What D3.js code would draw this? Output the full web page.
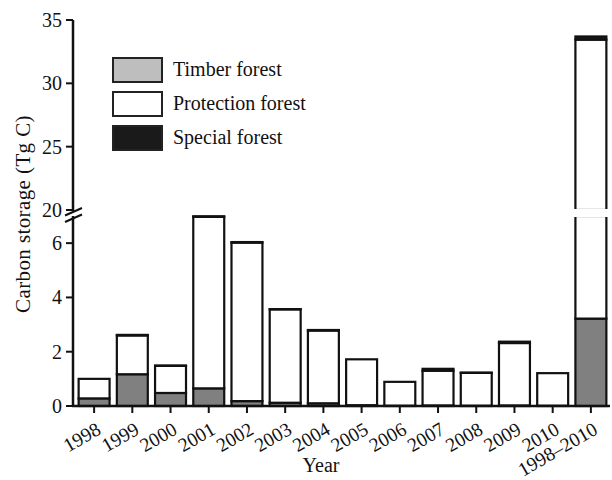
<!DOCTYPE html>
<html><head><meta charset="utf-8">
<script src="https://cdn.jsdelivr.net/npm/d3@7"></script>
<style>body{margin:0;background:#fff}svg{display:block}text{font-family:"Liberation Serif","Times New Roman",serif;fill:#111}</style>
</head><body><svg id="c" width="612" height="480"></svg>
<script>
const categories = ["1998","1999","2000","2001","2002","2003","2004","2005","2006","2007","2008","2009","2010","1998\u20132010"];
const timber     = [0.28,1.17,0.48,0.65,0.18,0.12,0.10,0.03,0.01,0.02,0.01,0.02,0.01,3.22];
const protection = [0.72,1.43,1.00,6.32,5.84,3.44,2.68,1.69,0.88,1.28,1.21,2.30,1.20,30.23];
const special    = [0.00,0.02,0.01,0.02,0.02,0.01,0.02,0.00,0.00,0.07,0.01,0.05,0.00,0.25];
const seriesNames = ["Timber forest","Protection forest","Special forest"];
const lowerTicks = [0,2,4,6];
const upperTicks = [20,25,30,35];

const svg = d3.select("#c");
const axisX = 73;
const x = d3.scaleBand().domain(categories).range([75, 610]).paddingInner(0.19).paddingOuter(0.095);
const yLow = d3.scaleLinear().domain([0,7]).range([406,216]);
const yUp  = d3.scaleLinear().domain([20,35]).range([210,20]);
const barFill = ["#808080","#ffffff","#1a1a1a"];
const legFill = ["#bebebe","#ffffff","#1a1a1a"];

function segs(a,b){
  const out=[];
  if (a<7) out.push([yLow(Math.min(b,7)), yLow(a)]);
  if (b>20) out.push([yUp(b), yUp(Math.max(a,20))]);
  return out;
}
const g = svg.append("g");
categories.forEach((c,i)=>{
  const vals=[timber[i],protection[i],special[i]];
  let base=0;
  vals.forEach((v,k)=>{
    if (v<=0){return;}
    let top=base+v;
    let bottomV=base, topV=top;
    if (bottomV>=7 && bottomV<20) bottomV=20;
    if (topV>7 && topV<20) topV=7;
    segs(bottomV, topV).forEach(([y0,y1])=>{
      g.append("rect").attr("x",x(c)).attr("width",x.bandwidth())
        .attr("y",y0).attr("height",Math.max(0,y1-y0))
        .attr("fill",barFill[k]).attr("stroke","#111").attr("stroke-width",2.2);
    });
    base=top;
  });
  if (base>7){
    g.append("rect").attr("x",x(c)-3).attr("width",x.bandwidth()+6)
      .attr("y",209).attr("height",8).attr("fill","#fff");
  }
});

const ax = svg.append("g").attr("stroke","#111").attr("fill","none");
ax.append("line").attr("x1",axisX).attr("x2",axisX).attr("y1",yUp(35)).attr("y2",yUp(20)+1).attr("stroke-width",2.5);
ax.append("line").attr("x1",axisX).attr("x2",axisX).attr("y1",yLow(7)).attr("y2",yLow(0)).attr("stroke-width",2.5);
ax.append("line").attr("x1",axisX-1).attr("x2",610).attr("y1",yLow(0)).attr("y2",yLow(0)).attr("stroke-width",2.5);
ax.append("line").attr("x1",65).attr("y1",215.5).attr("x2",82).attr("y2",208).attr("stroke-width",2);
ax.append("line").attr("x1",65).attr("y1",222).attr("x2",82).attr("y2",214.5).attr("stroke-width",2);

function yTicks(scale, ticks){
  ticks.forEach(t=>{
    const yy=scale(t);
    ax.append("line").attr("x1",axisX-7).attr("x2",axisX).attr("y1",yy).attr("y2",yy).attr("stroke-width",2);
    svg.append("text").attr("x",62).attr("y",yy).attr("dy","0.35em").attr("text-anchor","end")
      .style("font-size","20px").text(t);
  });
}
yTicks(yLow, lowerTicks);
yTicks(yUp, upperTicks);

categories.forEach(c=>{
  const cx = x(c)+x.bandwidth()/2;
  ax.append("line").attr("x1",cx).attr("x2",cx).attr("y1",406).attr("y2",413).attr("stroke-width",2);
  svg.append("text").attr("transform",`translate(${cx+8},${433}) rotate(-30)`)
    .attr("text-anchor","end").style("font-size","19.5px").text(c);
});

svg.append("text").attr("x",321).attr("y",472).attr("text-anchor","middle").style("font-size","20px").text("Year");
svg.append("text").attr("transform","translate(30,214) rotate(-90)").attr("text-anchor","middle")
  .style("font-size","21px").style("letter-spacing","0.4px").text("Carbon storage (Tg C)");

seriesNames.forEach((n,i)=>{
  const yy=58+i*34;
  svg.append("rect").attr("x",113).attr("y",yy).attr("width",49).attr("height",24)
    .attr("fill",legFill[i]).attr("stroke","#222").attr("stroke-width",2);
  svg.append("text").attr("x",173).attr("y",yy+18).style("font-size","20px").text(n);
});
</script></body></html>
